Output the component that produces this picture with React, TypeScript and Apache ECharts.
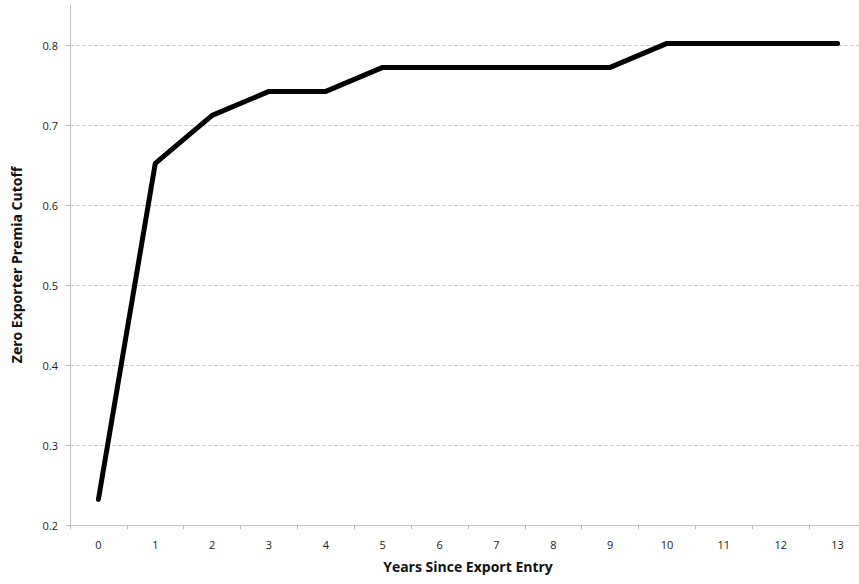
import React, { useEffect, useRef } from "react";
import * as echarts from "echarts";

const categories = ["0", "1", "2", "3", "4", "5", "6", "7", "8", "9", "10", "11", "12", "13"];
const cutoffValues = [0.232, 0.652, 0.712, 0.742, 0.742, 0.772, 0.772, 0.772, 0.772, 0.772, 0.802, 0.802, 0.802, 0.802];

export default function App() {
  const ref = useRef<HTMLDivElement>(null);
  useEffect(() => {
    document.body.style.margin = "0";
    document.body.style.overflow = "hidden";
    const chart = echarts.init(ref.current!, null, { renderer: "svg" });
    const font = "'Open Sans', 'Liberation Sans', sans-serif";
    chart.setOption({
      animation: false,
      backgroundColor: "#ffffff",
      grid: { left: 70, top: 5, right: 6, bottom: 59, containLabel: false },
      xAxis: {
        type: "category",
        data: categories,
        boundaryGap: true,
        name: "Years Since Export Entry",
        nameLocation: "middle",
        nameGap: 34,
        nameTextStyle: { fontFamily: font, fontWeight: "bold", fontSize: 14, color: "#111" },
        axisLine: { lineStyle: { color: "#c4c4c4", width: 1 } },
        axisTick: { show: true, length: 4, lineStyle: { color: "#b8b8b8" } },
        axisLabel: { fontFamily: font, fontSize: 11, color: "#222", margin: 14 },
        splitLine: { show: false },
      },
      yAxis: {
        type: "value",
        min: 0.2,
        max: 0.85,
        interval: 0.1,
        name: "Zero Exporter Premia Cutoff",
        nameLocation: "middle",
        nameGap: 47,
        nameTextStyle: { fontFamily: font, fontWeight: "bold", fontSize: 14, color: "#111" },
        axisLine: { show: true, lineStyle: { color: "#c4c4c4", width: 1 } },
        axisTick: { show: true, length: 4, lineStyle: { color: "#b8b8b8" } },
        axisLabel: {
          fontFamily: font,
          fontSize: 11,
          color: "#222",
          margin: 12,
          showMaxLabel: false,
          formatter: (v: number) => (Math.abs(v - 0.85) < 1e-6 ? "" : v.toFixed(1)),
        },
        splitLine: { show: true, showMinLine: false, showMaxLine: false, lineStyle: { color: "#cccccc", type: "dashed", width: 1 } },
      },
      series: [
        {
          type: "line",
          data: cutoffValues,
          symbol: "none",
          lineStyle: { color: "#000000", width: 5, cap: "round", join: "round" },
        },
      ],
    });
    return () => chart.dispose();
  }, []);
  return <div ref={ref} style={{ width: 872, height: 584 }} />;
}
